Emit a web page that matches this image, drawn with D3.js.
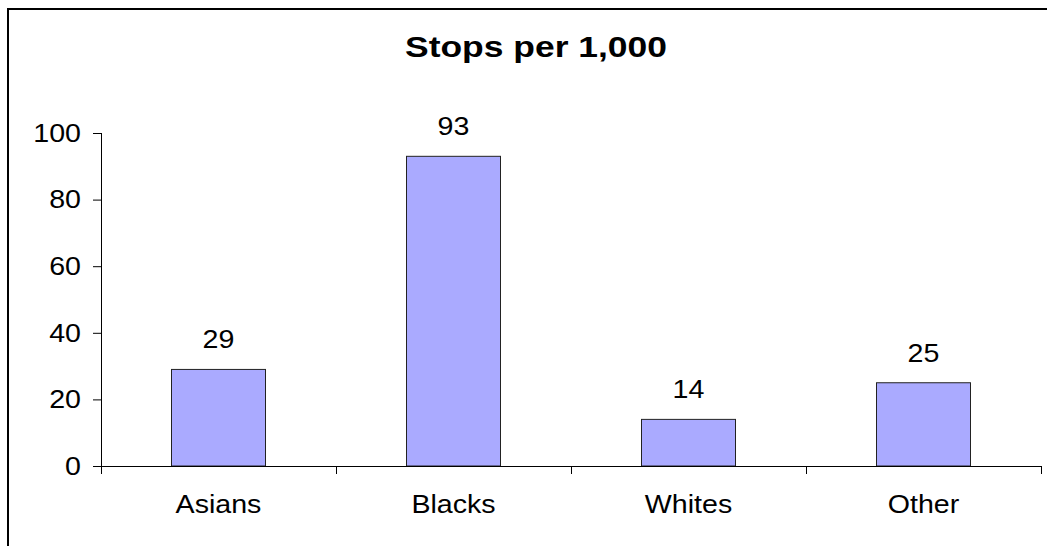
<!DOCTYPE html>
<html>
<head>
<meta charset="utf-8">
<script src="https://cdn.jsdelivr.net/npm/d3@7"></script>
<style>
  body { margin: 0; background: #fff; }
  svg text { font-family: "Liberation Sans", Arial, sans-serif; fill: #000; }
</style>
</head>
<body>
<div id="chart"></div>
<script>
const categories = ["Asians", "Blacks", "Whites", "Other"];
const stops = [29, 93, 14, 25];
const yTicks = [0, 20, 40, 60, 80, 100];
const title = "Stops per 1,000";

const w = 1047, h = 546;
const plotLeft = 101, plotRight = 1041, plotTop = 133, plotBottom = 466;
const fontSize = 26;

// the source picture is a little wider than tall, so text is stretched sideways
function widen(sel, k) {
    sel.each(function () {
        const len = this.getComputedTextLength();
        d3.select(this)
            .attr("textLength", len * k)
            .attr("lengthAdjust", "spacingAndGlyphs");
    });
}

const svg = d3.select("#chart").append("svg")
    .attr("width", w)
    .attr("height", h);

// outer frame (only left and top edges fall inside the picture)
svg.append("rect")
    .attr("x", 8).attr("y", 9)
    .attr("width", 1200).attr("height", 800)
    .attr("fill", "none")
    .attr("stroke", "#000")
    .attr("stroke-width", 2);

const titleText = svg.append("text")
    .attr("x", 536)
    .attr("y", 57)
    .attr("text-anchor", "middle")
    .attr("font-size", 29)
    .attr("font-weight", "bold")
    .text(title);
titleText.attr("textLength", 262).attr("lengthAdjust", "spacingAndGlyphs");

const xScale = d3.scaleBand()
    .domain(categories)
    .range([plotLeft, plotRight])
    .paddingInner(0)
    .paddingOuter(0);

const yScale = d3.scaleLinear()
    .domain([0, 100])
    .range([plotBottom, plotTop]);

const yAxis = d3.axisLeft(yScale)
    .tickValues(yTicks)
    .tickSize(8)
    .tickPadding(12)
    .tickSizeOuter(0);

const gy = svg.append("g")
    .attr("transform", `translate(${plotLeft},0)`)
    .call(yAxis);
gy.select(".domain").remove();
gy.selectAll("text").attr("font-size", fontSize).attr("font-family", "Liberation Sans, Arial, sans-serif");
gy.selectAll("line").attr("stroke", "#000");
widen(gy.selectAll("text"), 1.1);

// y axis line, running a little past zero like the category ticks
svg.append("line")
    .attr("x1", plotLeft + 0.5).attr("x2", plotLeft + 0.5)
    .attr("y1", plotTop).attr("y2", plotBottom + 8)
    .attr("stroke", "#000");

// bars
const barW = xScale.bandwidth() * 0.4;
svg.selectAll("rect.bar")
    .data(stops)
    .enter()
    .append("rect")
    .attr("class", "bar")
    .attr("x", (d, i) => xScale(categories[i]) + (xScale.bandwidth() - barW) / 2)
    .attr("y", d => yScale(d))
    .attr("width", barW)
    .attr("height", d => plotBottom - yScale(d))
    .attr("fill", "#aaaaff")
    .attr("stroke", "#222")
    .attr("stroke-width", 1);

// value labels
const vals = svg.selectAll("text.val")
    .data(stops)
    .enter()
    .append("text")
    .attr("class", "val")
    .attr("x", (d, i) => xScale(categories[i]) + xScale.bandwidth() / 2)
    .attr("y", d => yScale(d) - 21)
    .attr("text-anchor", "middle")
    .attr("font-size", fontSize)
    .text(d => d);
widen(vals, 1.1);

// x axis: labels centred, ticks on category boundaries
const xAxis = d3.axisBottom(xScale)
    .tickSize(0)
    .tickPadding(29);
const gx = svg.append("g")
    .attr("transform", `translate(0,${plotBottom})`)
    .call(xAxis);
gx.select(".domain").remove();
gx.selectAll("text").attr("font-size", fontSize).attr("font-family", "Liberation Sans, Arial, sans-serif");
widen(gx.selectAll("text"), 1.1);

svg.append("line")
    .attr("x1", plotLeft).attr("x2", plotRight)
    .attr("y1", plotBottom + 0.5).attr("y2", plotBottom + 0.5)
    .attr("stroke", "#000");

const bounds = categories.map(c => xScale(c)).concat([plotRight]);
svg.selectAll("line.xtick")
    .data(bounds)
    .enter()
    .append("line")
    .attr("class", "xtick")
    .attr("x1", d => Math.round(d) + 0.5).attr("x2", d => Math.round(d) + 0.5)
    .attr("y1", plotBottom).attr("y2", plotBottom + 8)
    .attr("stroke", "#000");
</script>
</body>
</html>
